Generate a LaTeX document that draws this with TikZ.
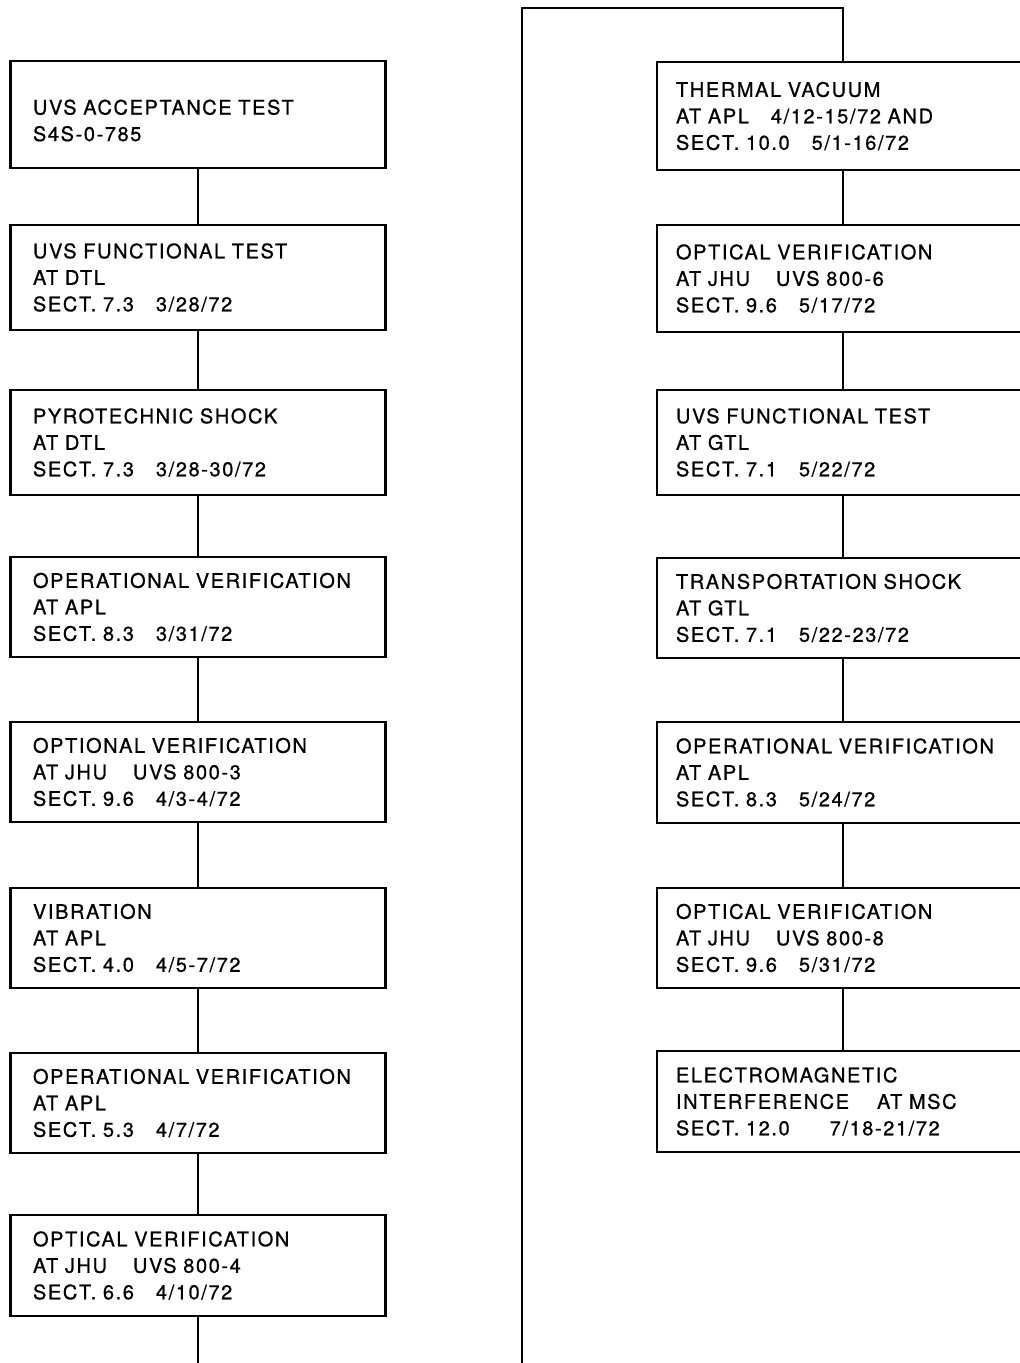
\documentclass[tikz,border=0pt]{standalone}
\usepackage{fontspec}
\setmainfont{TeX Gyre Heros}[LetterSpace=8, FakeBold=0.8]
\newcommand{\sgap}[1][22pt]{\hspace{#1}}
\begin{document}
\begin{tikzpicture}[x=1pt,y=-1pt,
  stage/.style={draw, line width=2.2pt, align=left,
    font=\fontsize{20}{26.5}\selectfont, inner ysep=4pt},
  leftbox/.style={stage, text width=330pt, inner xsep=22.5pt, minimum height=#1},
  rightbox/.style={stage, text width=334pt, inner xsep=19pt, minimum height=#1},
  link/.style={line width=2.2pt}
]
\fill[white] (0,0) rectangle (1020,1363);
\useasboundingbox (0,0) rectangle (1020,1363);
\clip (0,0) rectangle (1020,1363);

% left column
\node[leftbox=107pt] (l1) at (198,114.5) {\rule{0pt}{27pt}UVS ACCEPTANCE TEST\\S4S-0-785};
\node[leftbox=105pt] (l2) at (198,277.5) {UVS FUNCTIONAL TEST\\AT DTL\\SECT. 7.3\sgap 3/28/72};
\node[leftbox=105pt] (l3) at (198,442.5) {PYROTECHNIC SHOCK\\AT DTL\\SECT. 7.3\sgap 3/28-30/72};
\node[leftbox=100pt] (l4) at (198,607) {OPERATIONAL VERIFICATION\\AT APL\\SECT. 8.3\sgap 3/31/72};
\node[leftbox=100pt] (l5) at (198,772) {OPTIONAL VERIFICATION\\AT JHU\sgap[26pt]UVS 800-3\\SECT. 9.6\sgap 4/3-4/72};
\node[leftbox=100pt] (l6) at (198,938) {VIBRATION\\AT APL\\SECT. 4.0\sgap 4/5-7/72};
\node[leftbox=100pt] (l7) at (198,1103) {OPERATIONAL VERIFICATION\\AT APL\\SECT. 5.3\sgap 4/7/72};
\node[leftbox=101pt] (l8) at (198,1265.5) {OPTICAL VERIFICATION\\AT JHU\sgap[26pt]UVS 800-4\\SECT. 6.6\sgap 4/10/72};

% right column
\node[rightbox=108pt] (r1) at (843,116) {THERMAL VACUUM\\AT APL\sgap 4/12-15/72 AND\\SECT. 10.0\sgap 5/1-16/72};
\node[rightbox=107pt] (r2) at (843,278.5) {OPTICAL VERIFICATION\\AT JHU\sgap[26pt]UVS 800-6\\SECT. 9.6\sgap 5/17/72};
\node[rightbox=105pt] (r3) at (843,442.5) {UVS FUNCTIONAL TEST\\AT GTL\\SECT. 7.1\sgap 5/22/72};
\node[rightbox=100pt] (r4) at (843,608) {TRANSPORTATION SHOCK\\AT GTL\\SECT. 7.1\sgap 5/22-23/72};
\node[rightbox=101pt] (r5) at (843,772.5) {OPERATIONAL VERIFICATION\\AT APL\\SECT. 8.3\sgap 5/24/72};
\node[rightbox=100pt] (r6) at (843,938) {OPTICAL VERIFICATION\\AT JHU\sgap[26pt]UVS 800-8\\SECT. 9.6\sgap 5/31/72};
\node[rightbox=101pt] (r7) at (843,1101.5) {ELECTROMAGNETIC\\INTERFERENCE\sgap[28pt]AT MSC\\SECT. 12.0\sgap[40pt]7/18-21/72};

% connectors down the left column
\foreach \a/\b in {l1/l2,l2/l3,l3/l4,l4/l5,l5/l6,l6/l7,l7/l8}
  \draw[link] (\a.south) -- (\b.north);
\coordinate (lout) at (198,1370);
\draw[link] (l8.south) -- (lout);

% return path into the right column
\coordinate (rin) at (522,1370);
\coordinate (rturn) at (522,8);
\coordinate (rtop) at (843,8);
\draw[link, line join=miter] (rin) -- (rturn) -- (rtop) -- (r1.north);
\foreach \a/\b in {r1/r2,r2/r3,r3/r4,r4/r5,r5/r6,r6/r7}
  \draw[link] (\a.south) -- (\b.north);
\end{tikzpicture}
\end{document}
